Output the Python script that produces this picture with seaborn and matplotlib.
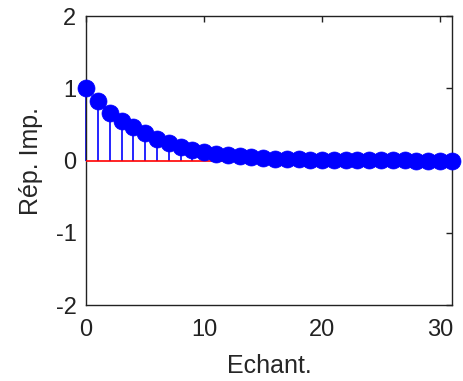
import numpy as np
import pandas as pd
import matplotlib
matplotlib.use("Agg")
import matplotlib.pyplot as plt
import seaborn as sns

samples = list(range(32))
response = [1.0, 0.82, 0.66, 0.55, 0.46, 0.38, 0.30, 0.25, 0.19, 0.15, 0.12, 0.095,
            0.075, 0.058, 0.046, 0.036, 0.028, 0.022, 0.017, 0.013, 0.01, 0.008, 0.006, 0.005,
            0.004, 0.003, 0.002, 0.002, 0.001, 0.001, 0.001, 0.0]
xticks = [0, 10, 20, 30]
yticks = [-2, -1, 0, 1, 2]

sns.set_style("white")
plt.rcParams['font.family'] = ['Liberation Sans', 'DejaVu Sans']
plt.rcParams['axes.unicode_minus'] = False

df = pd.DataFrame({"n": samples, "h": response})

fig = plt.figure(figsize=(4.63, 3.81), dpi=100)
ax = fig.add_axes([0.186, 0.199, 0.79, 0.759])

ax.vlines(df["n"], 0, df["h"], color="#0000ff", linewidth=1.2, zorder=2)
ax.hlines(0, 0, 31, color="#ff0000", linewidth=1.2, zorder=3)
sns.scatterplot(data=df, x="n", y="h", ax=ax, color="#0000ff", s=150,
                marker="o", edgecolor="#0000ff", linewidth=0.5, zorder=4, legend=False)

ax.set_xlim(0, 31)
ax.set_ylim(-2, 2)
ax.set_xticks(xticks)
ax.set_yticks(yticks)
ax.tick_params(direction="in", length=4, width=1, top=True, right=True,
               labelsize=17, colors="#222222")
ax.tick_params(axis="x", pad=10)
ax.tick_params(axis="y", pad=7)
for s in ax.spines.values():
    s.set_visible(True)
    s.set_color("#222222")
    s.set_linewidth(1)
ax.set_xlabel("Echant.", fontsize=18, labelpad=9)
ax.set_ylabel("Rép. Imp.", fontsize=18, labelpad=9)
for c in ax.collections:
    c.set_clip_on(False)

fig.savefig("out.png", dpi=100)
